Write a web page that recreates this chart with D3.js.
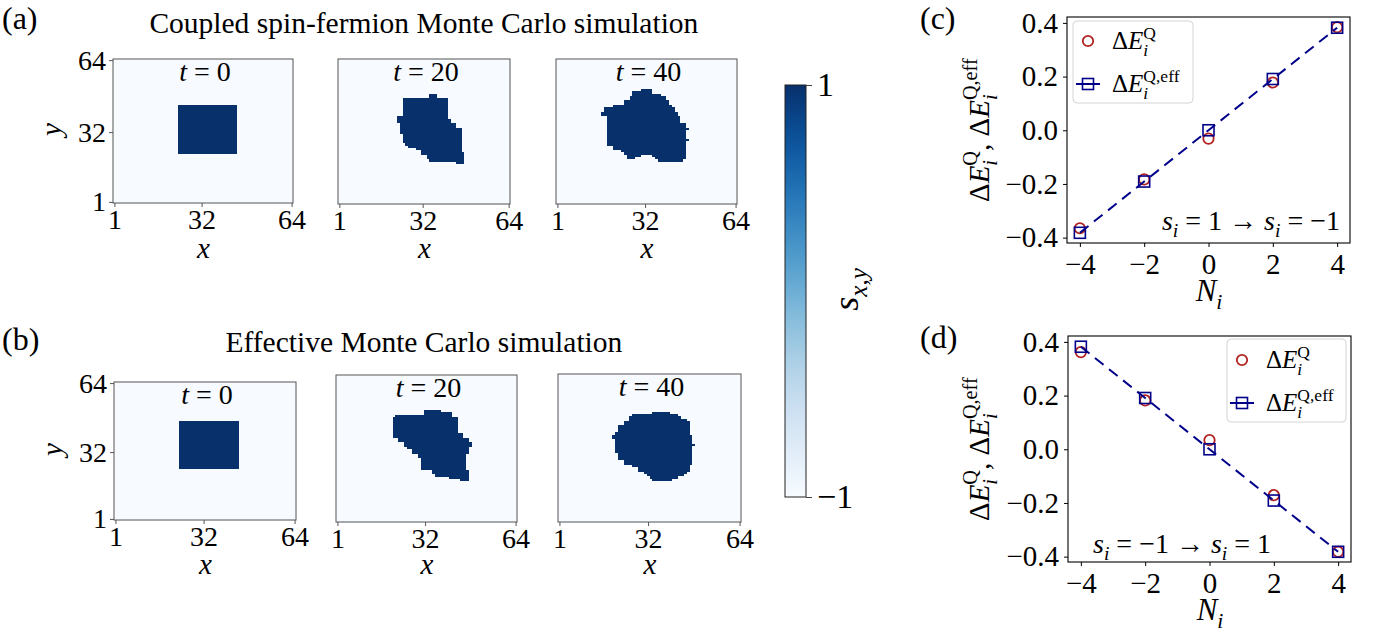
<!DOCTYPE html>
<html><head><meta charset="utf-8">
<script src="https://cdn.jsdelivr.net/npm/d3@7/dist/d3.min.js"></script>
<style>
body{margin:0;background:#fff;}
svg{display:block;}
svg text{font-family:"Liberation Serif","DejaVu Serif",serif;fill:#000;}
</style></head><body>
<svg id="fig" width="1380" height="633" font-family="Liberation Serif"></svg>
<script>
// ---------------- data ----------------
const GRID = 64;
const gridTicks = [1, 32, 64];
const timeLabels = ["0", "20", "40"];
const titleA = "Coupled spin-fermion Monte Carlo simulation";
const titleB = "Effective Monte Carlo simulation";
const panelLabels = ["(a)", "(b)", "(c)", "(d)"];
// spin-up (+1) domains, as bands [yTop, yBottom, xStart, xEnd] in lattice units (inclusive); the rest is -1
const blobA0 = [[44,23,24,44]];
const blobA20 = [[49,48,35,37],[47,40,25,41],[39,39,23,41],[38,37,23,42],[36,35,24,44],[34,32,24,46],
  [31,28,25,46],[27,27,26,46],[26,26,27,46],[25,25,30,46],[24,24,32,46],[23,23,32,47],[22,21,34,47],
  [20,20,35,47],[19,19,45,47]];
const blobA40 = [[51,51,31,34],[50,50,28,34],[49,49,28,37],[48,47,27,39],[46,45,25,40],[44,44,21,41],
  [43,42,18,42],[41,40,17,43],[39,37,19,44],[36,35,19,46],[34,34,19,47],[33,30,19,46],[29,29,19,47],
  [28,27,19,46],[26,25,21,46],[24,24,24,46],[23,23,25,46],[22,22,26,30],[22,22,35,46],[21,21,26,28],
  [21,21,36,46],[20,20,37,45]];
const blobB0 = [[46,25,24,44]];
const blobB20 = [[49,49,32,37],[48,48,32,41],[47,47,22,41],[46,40,21,43],[39,38,21,45],[37,36,23,47],
  [35,34,25,48],[33,33,26,47],[32,31,28,47],[30,29,30,46],[28,27,31,46],[26,24,31,46],[23,22,35,47],
  [21,21,36,47],[20,20,41,47],[19,19,45,47]];
const blobB40 = [[48,48,34,39],[47,47,27,42],[46,46,26,43],[45,45,26,45],[44,43,24,46],[42,40,22,46],
  [39,39,21,46],[38,37,20,47],[36,35,21,47],[34,34,21,48],[33,31,21,47],[30,28,22,47],[27,26,24,47],
  [25,25,27,46],[24,23,29,46],[22,22,31,45],[21,21,32,44],[20,20,33,42],[19,19,34,40]];
const colorbarTicks = [-1, 1];

const Ni = [-4, -2, 0, 2, 4];
const xTicksN = [-4, -2, 0, 2, 4];
const yTicksE = [-0.4, -0.2, 0.0, 0.2, 0.4];
const dEQ_c    = [-0.365, -0.183, -0.031, 0.178, 0.384];
const dEQeff_c = [-0.382, -0.191, 0.0, 0.191, 0.382];
const dEQ_d    = [0.362, 0.182, 0.034, -0.171, -0.382];
const dEQeff_d = [0.382, 0.191, 0.0, -0.191, -0.382];

// ---------------- helpers ----------------
const SERIF = "Liberation Serif, DejaVu Serif, serif";
const svg = d3.select("#fig");
const color = d3.scaleSequential(d3.interpolateBlues).domain([-1, 1]);
const minus = s => String(s).replace("-", "\u2212");

// rich text: parts [str, flags]; flags: i=italic, b=subscript, p=superscript, s=stack over previous
function rich(t, parts, fs) {
  let shift = 0, lastW = 0;
  parts.forEach(([s, f = ""]) => {
    const ts = t.append("tspan").text(s);
    if (f.includes("i")) ts.attr("font-style", "italic");
    let target = 0, size = fs;
    if (f.includes("b")) { target = 0.26 * fs; size = 0.7 * fs; }
    if (f.includes("p")) { target = -0.42 * fs; size = 0.7 * fs; }
    ts.attr("font-size", size).attr("dy", target - shift);
    if (f.includes("s")) ts.attr("dx", -lastW);
    shift = target;
    lastW = ts.node().getComputedTextLength();
  });
  return t;
}
function txt(x, y, fs, parts, anchor = "start", rot = 0) {
  const base = `translate(${x},${y})` + (rot ? ` rotate(${rot})` : "");
  const t = svg.append("text").attr("font-size", fs).style("font-family", SERIF)
    .attr("transform", base);
  rich(t, parts, fs);
  if (anchor !== "start") {
    const bb = t.node().getBBox();
    const off = anchor === "middle" ? bb.x + bb.width / 2 : bb.x + bb.width;
    t.attr("transform", base + ` translate(${-off},0)`);
  }
  return t;
}
function styleAxis(a, fs) {
  a.select(".domain").remove();
  a.attr("font-family", null).attr("font-size", null);
  a.selectAll("text").attr("font-size", fs).style("font-family", SERIF).attr("fill", "#000");
  return a;
}

// ---------------- lattice panels ----------------
const framesA = [{x:113,y:59,w:180,h:144},{x:338,y:59,w:172,h:145},{x:556,y:59,w:181,h:145}];
const framesB = [{x:114,y:382,w:182,h:138},{x:336,y:375,w:181,h:147},{x:558,y:374,w:183,h:148}];
const FT = 28;

function drawLattice(fr, bands, tLab, showY, xLabBase) {
  const g = svg.append("g");
  const x = d3.scaleLinear().domain([0.5, GRID + 0.5]).range([fr.x, fr.x + fr.w]);
  const y = d3.scaleLinear().domain([0.5, GRID + 0.5]).range([fr.y + fr.h, fr.y]);
  const up = new Set();
  bands.forEach(([yt, yb, xs, xe]) => {
    d3.range(yb, yt + 1).forEach(j => d3.range(xs, xe + 1).forEach(i => up.add(j * 100 + i)));
  });
  const cells = d3.cross(d3.range(1, GRID + 1), d3.range(1, GRID + 1))
    .map(([i, j]) => ({ i, j, v: up.has(j * 100 + i) ? 1 : -1 }));
  const cw = x(1.5) - x(0.5), ch = y(0.5) - y(1.5);
  g.selectAll("rect.c").data(cells).join("rect").attr("class", "c")
    .attr("x", d => x(d.i - 0.5)).attr("y", d => y(d.j + 0.5))
    .attr("width", cw + 0.6).attr("height", ch + 0.6)
    .attr("shape-rendering", "crispEdges")
    .attr("fill", d => color(d.v));
  g.append("rect").attr("x", fr.x).attr("y", fr.y).attr("width", fr.w).attr("height", fr.h)
    .attr("fill", "none").attr("stroke", "#555").attr("stroke-width", 1);
  const ax = g.append("g").attr("transform", `translate(0,${fr.y + fr.h})`)
    .call(d3.axisBottom(x).tickValues(gridTicks).tickSize(4).tickPadding(2));
  styleAxis(ax, FT).selectAll("line").attr("stroke", "#555");
  if (showY) {
    const ay = g.append("g").attr("transform", `translate(${fr.x},0)`)
      .call(d3.axisLeft(y).tickValues(gridTicks).tickSize(4).tickPadding(3));
    styleAxis(ay, FT).selectAll("line").attr("stroke", "#555");
    txt(fr.x - 52, fr.y + fr.h / 2, 29, [["y", "i"]], "middle", -90);
  }
  txt(fr.x + fr.w / 2 + 2, fr.y + 22, 28, [["t", "i"], [" = " + tLab]], "middle");
  txt(fr.x + fr.w / 2, xLabBase, 29, [["x", "i"]], "middle");
}
framesA.forEach((fr, k) => drawLattice(fr, [blobA0, blobA20, blobA40][k], timeLabels[k], k === 0, 258));
framesB.forEach((fr, k) => drawLattice(fr, [blobB0, blobB20, blobB40][k], timeLabels[k], k === 0, 574));

txt(424, 33, 29.5, [[titleA]], "middle");
txt(424, 352, 29.5, [[titleB]], "middle");
txt(2, 29, 32, [[panelLabels[0]]]);
txt(2, 350, 32, [[panelLabels[1]]]);
txt(920, 29, 32, [[panelLabels[2]]]);
txt(920, 348, 32, [[panelLabels[3]]]);

// ---------------- colorbar ----------------
const cb = {x:785, y:85, w:21, h:412};
const cScale = d3.scaleLinear().domain([-1, 1]).range([cb.y + cb.h, cb.y]);
const grad = svg.append("defs").append("linearGradient").attr("id", "cbg")
  .attr("x1", 0).attr("y1", 1).attr("x2", 0).attr("y2", 0);
grad.selectAll("stop").data(d3.range(0, 1.0001, 0.05)).join("stop")
  .attr("offset", d => d).attr("stop-color", d => color(-1 + 2 * d));
svg.append("rect").attr("x", cb.x).attr("y", cb.y).attr("width", cb.w).attr("height", cb.h)
  .attr("fill", "url(#cbg)").attr("stroke", "#222").attr("stroke-width", 1);
const cax = svg.append("g").attr("transform", `translate(${cb.x + cb.w},0)`)
  .call(d3.axisRight(cScale).tickValues(colorbarTicks).tickSize(6).tickPadding(5).tickFormat(d => minus(d)));
styleAxis(cax, 34).selectAll("line").attr("stroke", "#444");
txt(858, 289, 36, [["s", "i"], ["x", "ib"], [",", "b"], ["y", "ib"]], "middle", -90);

// ---------------- energy panels ----------------
function drawEnergy(fr, q, qeff, leg, annot, annotPos, yLabX) {
  const g = svg.append("g");
  const x = d3.scaleLinear().domain([-4.4, 4.4]).range([fr.x, fr.x + fr.w]);
  const y = d3.scaleLinear().domain([-0.42, 0.422]).range([fr.y + fr.h, fr.y]);
  const ax = g.append("g").attr("transform", `translate(0,${fr.y + fr.h})`)
    .call(d3.axisBottom(x).tickValues(xTicksN).tickSize(4).tickPadding(6).tickFormat(d => minus(d)));
  styleAxis(ax, 29);
  const ay = g.append("g").attr("transform", `translate(${fr.x},0)`)
    .call(d3.axisLeft(y).tickValues(yTicksE).tickSize(4).tickPadding(5).tickFormat(d => minus(d3.format(".1f")(d))));
  styleAxis(ay, 29);

  const pts = Ni.map((n, k) => ({ n, q: q[k], e: qeff[k] }));
  const red = "#b22222", blue = "#00008b";
  g.selectAll("circle.q").data(pts).join("circle").attr("class", "q")
    .attr("cx", d => x(d.n)).attr("cy", d => y(d.q)).attr("r", 5.2)
    .attr("fill", "none").attr("stroke", red).attr("stroke-width", 1.8);
  g.append("path").datum(pts).attr("fill", "none").attr("stroke", blue).attr("stroke-width", 2)
    .attr("stroke-dasharray", "11,7")
    .attr("d", d3.line().x(d => x(d.n)).y(d => y(d.e)));
  g.selectAll("rect.e").data(pts).join("rect").attr("class", "e")
    .attr("x", d => x(d.n) - 5.5).attr("y", d => y(d.e) - 5.5).attr("width", 11).attr("height", 11)
    .attr("fill", "none").attr("stroke", blue).attr("stroke-width", 1.6);
  g.append("rect").attr("x", fr.x).attr("y", fr.y).attr("width", fr.w).attr("height", fr.h)
    .attr("fill", "none").attr("stroke", "#000").attr("stroke-width", 1.1);

  // legend
  g.append("rect").attr("x", leg.x).attr("y", leg.y).attr("width", leg.w).attr("height", leg.h)
    .attr("rx", 4).attr("fill", "#fff").attr("fill-opacity", 0.8).attr("stroke", "#d4d4d4");
  g.append("circle").attr("cx", leg.mx).attr("cy", leg.r1).attr("r", 5.2)
    .attr("fill", "none").attr("stroke", red).attr("stroke-width", 1.8);
  g.append("line").attr("x1", leg.mx - 12).attr("x2", leg.mx + 12).attr("y1", leg.r2).attr("y2", leg.r2)
    .attr("stroke", blue).attr("stroke-width", 2);
  g.append("rect").attr("x", leg.mx - 5.5).attr("y", leg.r2 - 5.5).attr("width", 11).attr("height", 11)
    .attr("fill", "none").attr("stroke", blue).attr("stroke-width", 1.6);
  txt(leg.tx, leg.r1 + 8, 25, [["\u0394"], ["E", "i"], ["i", "ib"], ["Q", "ps"]]);
  txt(leg.tx, leg.r2 + 8, 25, [["\u0394"], ["E", "i"], ["i", "ib"], ["Q,eff", "ps"]]);

  txt(annotPos[0], annotPos[1], 28, annot, annotPos[2]);
  txt(fr.x + fr.w / 2, fr.y + fr.h + 58, 31, [["N", "i"], ["i", "ib"]], "middle");
  txt(yLabX, fr.y + fr.h / 2, 29,
    [["\u0394"], ["E", "i"], ["i", "ib"], ["Q", "ps"], [", "], ["\u0394"], ["E", "i"], ["i", "ib"], ["Q,eff", "ps"]],
    "middle", -90);
}
drawEnergy({x:1067, y:17, w:283, h:226}, dEQ_c, dEQeff_c,
  {x:1073, y:21, w:120, h:82, mx:1088, r1:41, r2:84, tx:1112},
  [["s", "i"], ["i", "ib"], [" = 1 \u2192 "], ["s", "i"], ["i", "ib"], [" = \u22121"]], [1340, 230, "end"], 989);
drawEnergy({x:1068, y:336, w:283, h:226}, dEQ_d, dEQeff_d,
  {x:1227, y:339, w:119, h:83, mx:1242, r1:360, r2:403, tx:1266},
  [["s", "i"], ["i", "ib"], [" = \u22121 \u2192 "], ["s", "i"], ["i", "ib"], [" = 1"]], [1093, 553, "start"], 989);
</script>
</body></html>
